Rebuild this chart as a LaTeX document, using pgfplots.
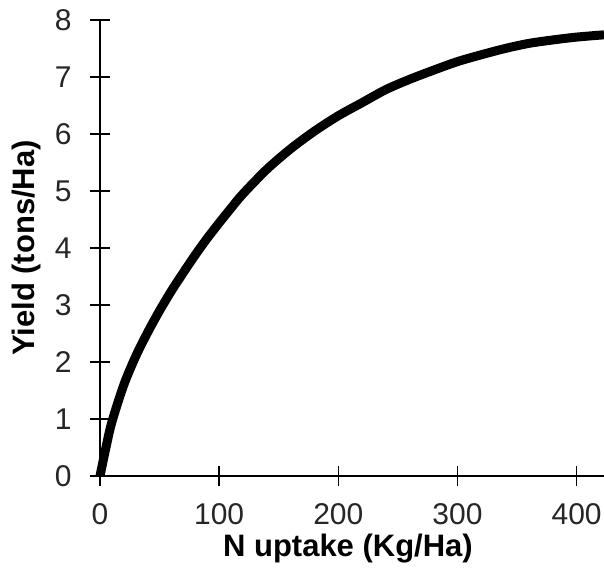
\documentclass[border=0pt]{standalone}
\usepackage{pgfplots}
\pgfplotsset{compat=1.18}
\usepackage{fontspec}
\setmainfont{Liberation Sans}
\begin{document}
\begin{tikzpicture}
\path[use as bounding box] (-100pt,-91pt) rectangle (504pt,476pt);
\begin{axis}[
  at={(0pt,0pt)}, anchor=origin,
  scale only axis, width=504pt, height=456pt,
  xmin=0, xmax=423, ymin=0, ymax=8,
  axis lines*=left,
  axis line style={line width=1.4pt, black},
  xtick={0,100,200,300,400},
  ytick={0,1,2,3,4,5,6,7,8},
  tick align=center,
  major tick length=20pt,
  tick style={line width=1.4pt, black},
  /pgf/number format/assume math mode=true,
  ticklabel style={font=\fontsize{30}{30}\selectfont, color=black!85},
  xticklabel style={yshift=-14pt},
  yticklabel style={xshift=-15pt},
  clip=false,
  xlabel={\bfseries N uptake (Kg/Ha)},
  ylabel={\bfseries Yield (tons/Ha)},
  xlabel style={font=\fontsize{31}{31}\selectfont, at={(axis description cs:0.492,-0.1776)}, anchor=base},
  ylabel style={font=\fontsize{31}{31}\selectfont, at={(axis description cs:-0.145,0.5)}, anchor=center},
]
\addplot[black, line width=9pt, smooth] coordinates {
(0,0) (5,0.5) (10,0.95) (20,1.6) (30,2.1) (40,2.52) (50,2.9) (60,3.25)
(70,3.57) (80,3.88) (90,4.17) (100,4.44) (110,4.7) (120,4.95) (140,5.38)
(160,5.74) (180,6.05) (200,6.32) (220,6.55) (240,6.78) (260,6.96) (280,7.12)
(300,7.27) (320,7.39) (340,7.5) (360,7.59) (380,7.65) (400,7.7) (423,7.74)
};
\end{axis}
\end{tikzpicture}
\end{document}
